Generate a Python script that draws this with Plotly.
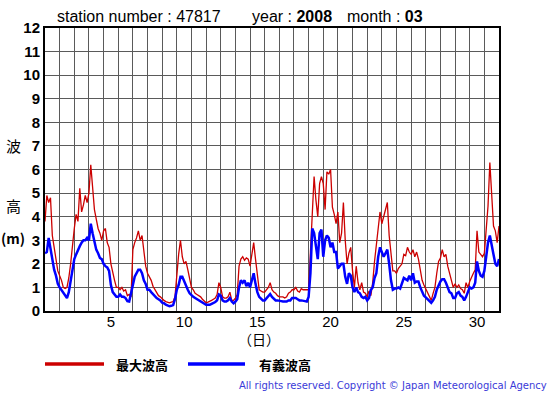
import plotly.graph_objects as go

# ---------------- data ----------------
station = "47817"
year = "2008"
month = "03"

# observation times in hours from 1 March 00:00, 3-hourly
obs_hours = list(range(0, 745, 3))

# 最大波高 (maximum wave height, m), 8 samples per day
max_wave = [
    3.8, 4.9, 4.6, 4.8, 3.2, 2.7, 2.3, 1.7,
    1.5, 1.3, 1.0, 0.95, 1.0, 1.4, 2.0, 2.9,
    3.5, 4.1, 3.8, 5.2, 4.2, 4.5, 4.9, 4.6,
    5.0, 6.2, 5.2, 4.3, 3.9, 3.5, 3.3, 3.0,
    3.4, 3.5, 2.9, 2.7, 2.0, 1.6, 1.3, 1.0,
    1.0, 0.9, 1.0, 0.85, 0.9, 0.65, 0.7, 0.6,
    2.6, 2.9, 3.1, 3.4, 3.0, 3.2, 2.4, 1.9,
    1.6, 1.45, 1.3, 1.05, 0.9, 0.75, 0.65, 0.6,
    0.5, 0.45, 0.4, 0.38, 0.35, 0.38, 0.4, 0.6,
    1.6, 2.4, 3.0, 2.3, 2.0, 2.1, 1.75, 1.3,
    1.0, 0.9, 0.75, 0.7, 0.65, 0.6, 0.5, 0.4,
    0.35, 0.38, 0.4, 0.45, 0.5, 0.55, 0.7, 1.2,
    1.0, 0.6, 0.55, 0.55, 0.6, 0.8, 0.45, 0.45,
    0.55, 0.7, 1.9, 2.2, 2.3, 2.15, 2.25, 2.2,
    1.9, 2.4, 2.9, 2.2, 1.4, 0.9, 0.85, 0.8,
    0.8, 0.9, 1.0, 1.2, 0.9, 0.8, 0.75, 0.65,
    0.6, 0.6, 0.6, 0.55, 0.6, 0.75, 0.8, 0.9,
    0.9, 1.0, 0.85, 0.8, 0.95, 0.9, 0.9, 0.9,
    0.9, 2.5, 4.5, 5.7, 4.7, 4.0, 5.4, 5.7,
    5.4, 4.3, 5.9, 5.8, 6.0, 4.4, 4.1, 3.7,
    4.2, 2.9, 3.3, 4.6, 3.0, 2.0, 2.45, 2.7,
    1.7, 1.0, 1.9, 1.2, 0.9, 1.2, 0.8, 0.75,
    0.6, 0.85, 0.65, 1.2, 2.1, 2.8, 3.3, 4.2,
    3.7, 4.0, 4.3, 4.6, 3.2, 2.4, 1.7, 1.7,
    1.6, 1.8, 1.9, 2.0, 2.4, 2.35, 2.7, 2.5,
    2.4, 2.6, 2.3, 2.5, 2.2, 1.8, 1.3, 1.1,
    0.95, 0.8, 0.6, 0.45, 0.75, 1.0, 1.6, 2.1,
    2.25, 2.6, 2.3, 2.4, 1.9, 1.6, 1.3, 1.0,
    1.15, 1.0, 1.1, 0.95, 0.9, 0.75, 1.2, 1.0,
    1.25, 1.45, 1.6, 1.75, 3.4, 2.5, 2.4, 2.3,
    2.45, 3.3, 4.45, 6.3, 4.8, 3.6, 3.4, 2.9,
    3.6,
]

# 有義波高 (significant wave height, m)
sig_wave = [
    2.45, 2.5, 3.1, 2.6, 2.1, 1.75, 1.5, 1.15,
    1.0, 0.9, 0.8, 0.7, 0.55, 0.8, 1.3, 1.8,
    2.2, 2.4, 2.6, 2.75, 2.9, 3.0, 3.0, 3.1,
    3.0, 3.7, 3.3, 2.9, 2.6, 2.45, 2.25, 2.2,
    2.0, 1.9, 1.85, 1.7, 1.1, 0.8, 0.7, 0.6,
    0.6, 0.7, 0.6, 0.6, 0.55, 0.42, 0.4, 0.7,
    1.1, 1.45, 1.6, 1.75, 1.75, 1.6, 1.3, 1.15,
    0.9, 0.9, 0.8, 0.7, 0.6, 0.55, 0.5, 0.45,
    0.35, 0.33, 0.27, 0.25, 0.2, 0.22, 0.25, 0.5,
    0.9, 1.1, 1.45, 1.45, 1.25, 1.05, 0.9, 0.75,
    0.65, 0.6, 0.55, 0.5, 0.45, 0.38, 0.33, 0.3,
    0.26, 0.26, 0.26, 0.3, 0.33, 0.38, 0.45, 0.7,
    0.65, 0.45, 0.4, 0.4, 0.45, 0.55, 0.4, 0.33,
    0.4, 0.5, 1.0, 1.3, 1.2, 1.3, 1.05, 1.2,
    1.0, 1.35, 1.6, 1.15, 0.8, 0.6, 0.5, 0.45,
    0.45, 0.55, 0.6, 0.72, 0.6, 0.5, 0.45, 0.45,
    0.45, 0.42, 0.4, 0.4, 0.4, 0.45, 0.45, 0.55,
    0.55, 0.55, 0.5, 0.45, 0.45, 0.45, 0.42, 0.4,
    0.6, 1.6, 3.5, 3.3, 2.8, 2.2, 3.3, 3.45,
    2.3, 3.0, 3.2, 3.1, 2.7, 2.9, 2.5, 2.5,
    1.8, 1.9, 2.0, 2.0, 1.45, 1.15, 1.6, 1.5,
    1.0, 0.8, 1.0, 0.8, 0.75, 0.6, 0.55, 0.6,
    0.45, 0.55, 0.9, 1.0, 1.4, 1.6, 2.3, 2.7,
    2.45, 2.3, 2.45, 2.6, 2.0, 1.3, 0.9, 0.95,
    0.95, 1.0, 0.95, 1.2, 1.4, 1.35, 1.3, 1.5,
    1.3, 1.6, 1.2, 1.25, 1.25, 1.0, 0.8, 0.65,
    0.58, 0.5, 0.42, 0.35, 0.45, 0.6, 0.9, 1.1,
    1.25, 1.35, 1.35, 1.2, 1.0, 0.8, 0.75, 0.55,
    0.55, 0.75, 0.8, 0.65, 0.6, 0.45, 0.6, 0.8,
    1.0, 0.95, 1.0, 1.2, 2.1, 1.7, 1.5, 1.45,
    1.7, 2.3, 2.9, 3.2, 2.7, 2.4, 2.0, 1.9,
    2.2,
]

day_labels = ["5", "10", "15", "20", "25", "30"]
day_label_pos = [4.5, 9.5, 14.5, 19.5, 24.5, 29.5]   # label at the middle of each day
y_ticks = list(range(0, 13))
n_days = 31

# ---------------- layout helpers ----------------
W, H = 555, 395
L, R, T, B = 45, 499, 28, 311   # plot area in pixels


def px(x):
    return (x - L) / (R - L)


def py(y):
    return (B - y) / (B - T)


days = [h / 24 for h in obs_hours]

RED = "#CC0000"
BLUE = "#0000FF"
SANS = "Liberation Sans, Arial, sans-serif"
CJK = "Noto Sans CJK JP"

fig = go.Figure()
fig.add_trace(go.Scatter(x=days, y=max_wave, mode="lines",
                         line=dict(color=RED, width=1.3), showlegend=False))
fig.add_trace(go.Scatter(x=days, y=sig_wave, mode="lines",
                         line=dict(color=BLUE, width=2.5), showlegend=False))

fig.update_layout(
    width=W, height=H,
    margin=dict(l=L, r=W - R, t=T, b=H - B, pad=0),
    paper_bgcolor="white", plot_bgcolor="white",
    xaxis=dict(
        range=[0, n_days], tickmode="array", tickvals=day_label_pos, ticktext=day_labels,
        showgrid=False, zeroline=False, ticks="", ticklen=0,
        tickfont=dict(family=SANS, size=15, color="black"),
        showline=True, linecolor="black", linewidth=2, mirror=True,
        ticklabelstandoff=-4,
        minor=dict(tickmode="array", tickvals=list(range(0, n_days + 1)),
                   showgrid=True, gridcolor="#5a5a5a", gridwidth=1, ticks=""),
    ),
    yaxis=dict(
        range=[0, 12], tickmode="array", tickvals=y_ticks,
        showgrid=True, gridcolor="#5a5a5a", gridwidth=1, zeroline=False, ticks="", ticklen=0,
        tickfont=dict(family=SANS, size=15, color="black", weight="bold"),
        showline=True, linecolor="black", linewidth=2, mirror=True,
        ticklabelstandoff=0,
    ),
)

ann = []
# header
ann.append(dict(x=px(55), y=py(17), text="station number : " + station, xanchor="left",
                font=dict(family=SANS, size=16, color="black")))
ann.append(dict(x=px(250), y=py(17), text="year : <b>" + year + "</b>", xanchor="left",
                font=dict(family=SANS, size=16, color="black")))
ann.append(dict(x=px(345), y=py(17), text="month : <b>" + month + "</b>", xanchor="left",
                font=dict(family=SANS, size=16, color="black")))
# y axis title (vertical, piecewise)
ann.append(dict(x=px(13), y=py(145), text="波", font=dict(family=CJK, size=15, color="black")))
ann.append(dict(x=px(13), y=py(205), text="高", font=dict(family=CJK, size=15, color="black")))
ann.append(dict(x=px(13), y=py(238), text="<b>(m)</b>", font=dict(family=CJK, size=14, color="black")))
# x axis title
ann.append(dict(x=px(259), y=py(339), text="（日）", font=dict(family=CJK, size=14, color="black")))
# legend text
ann.append(dict(x=px(142), y=py(364), text="<b>最大波高</b>", font=dict(family=CJK, size=13, color="black")))
ann.append(dict(x=px(285), y=py(364), text="<b>有義波高</b>", font=dict(family=CJK, size=13, color="black")))
# copyright
ann.append(dict(x=px(549), y=py(385), text="All rights reserved. Copyright © Japan Meteorological Agency",
                xanchor="right", font=dict(family="DejaVu Sans", size=10, color="#3a3ad8")))

for a in ann:
    a.update(xref="paper", yref="paper", showarrow=False, yanchor="middle")
    a.setdefault("xanchor", "center")
fig.update_layout(annotations=ann)

fig.update_layout(shapes=[
    dict(type="line", xref="paper", yref="paper", x0=px(45), x1=px(104), y0=py(364), y1=py(364),
         line=dict(color=RED, width=3.5)),
    dict(type="line", xref="paper", yref="paper", x0=px(188), x1=px(245), y0=py(364), y1=py(364),
         line=dict(color=BLUE, width=3.5)),
])

fig.write_html("out.html", config={"displayModeBar": False},
               post_script="document.body.style.margin='0';")
